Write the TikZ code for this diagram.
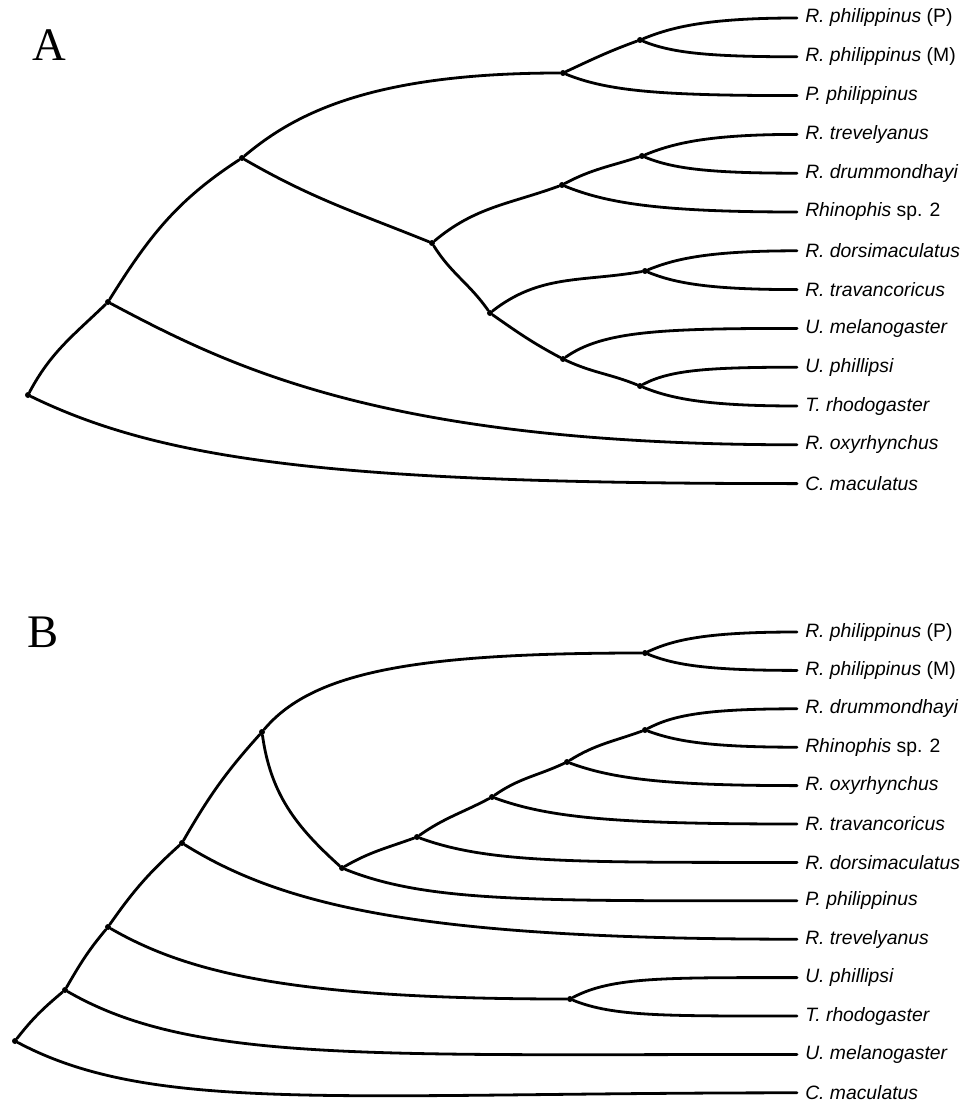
\documentclass[tikz,border=0pt]{standalone}
\usepackage{fontspec}
\setmainfont{Liberation Serif}
\newfontfamily\taxfont{Liberation Sans}
\tikzset{
  branch/.style={line width=2.1pt, line cap=round},
  leaf/.style={out looseness=0.5, in looseness=1.5},
  fork/.style={circle, fill=black, inner sep=0pt, minimum size=4.5pt},
  taxon/.style={anchor=west, inner xsep=6pt, inner ysep=0pt, font=\taxfont\fontsize{14.5}{17}\selectfont},
  panel/.style={font=\fontsize{35}{40}\selectfont},
}

\begin{document}
\begin{tikzpicture}[x=0.75pt, y=-0.75pt]
\useasboundingbox (0,0) rectangle (969,1109);
\node[panel] (labA) at (49,45) {A};
\node[panel] (labB) at (43,632) {B};
\foreach \n/\k/\t in {aPP/0/{\textit{R. philippinus} (P)}, aPM/1/{\textit{R. philippinus} (M)}, aPh/2/\textit{P. philippinus}, aTr/3/\textit{R. trevelyanus}, aDr/4/\textit{R. drummondhayi}, aRh/5/{\textit{Rhinophis} sp. 2}, aDo/6/\textit{R. dorsimaculatus}, aTv/7/\textit{R. travancoricus}, aUm/8/\textit{U. melanogaster}, aUp/9/\textit{U. phillipsi}, aTh/10/\textit{T. rhodogaster}, aRo/11/\textit{R. oxyrhynchus}, aCm/12/\textit{C. maculatus}}{
    \node[taxon] (\n) at (797,{18+38.8*\k}) {\t};
}
\foreach \n/\k/\t in {bPP/0/{\textit{R. philippinus} (P)}, bPM/1/{\textit{R. philippinus} (M)}, bDr/2/\textit{R. drummondhayi}, bRh/3/{\textit{Rhinophis} sp. 2}, bRo/4/\textit{R. oxyrhynchus}, bTv/5/\textit{R. travancoricus}, bDo/6/\textit{R. dorsimaculatus}, bPh/7/\textit{P. philippinus}, bTr/8/\textit{R. trevelyanus}, bUp/9/\textit{U. phillipsi}, bTh/10/\textit{T. rhodogaster}, bUm/11/\textit{U. melanogaster}, bCm/12/\textit{C. maculatus}}{
    \node[taxon] (\n) at (797,{632+38.4*\k}) {\t};
}
\node[fork] (a0) at (28,395) {};
\node[fork] (a1) at (108,302) {};
\node[fork] (a2) at (242,158) {};
\node[fork] (a3) at (563,73) {};
\node[fork] (a3b) at (640,40) {};
\node[fork] (a4) at (432,243) {};
\node[fork] (a5) at (562,185) {};
\node[fork] (a5b) at (642,156) {};
\node[fork] (a6) at (490,313) {};
\node[fork] (a7) at (645,271) {};
\node[fork] (a8) at (563,359) {};
\node[fork] (a9) at (640,386) {};
\draw[branch] (a0) to[out=62, in=224] (a1);
\draw[branch, leaf] (a0) to[out=-26, in=180] (aCm.west);
\draw[branch] (a1) to[out=58, in=213] (a2);
\draw[branch, leaf] (a1) to[out=-28, in=180] (aRo.west);
\draw[branch, leaf] (a2) to[out=40, in=180] (a3);
\draw[branch] (a2) to[out=-30, in=158] (a4);
\draw[branch] (a3) to[out=25, in=200] (a3b);
\draw[branch, leaf] (a3) to[out=-22, in=180] (aPh.west);
\draw[branch, leaf] (a3b) to[out=22, in=180] (aPP.west);
\draw[branch, leaf] (a3b) to[out=-22, in=180] (aPM.west);
\draw[branch] (a4) to[out=40, in=200] (a5);
\draw[branch] (a4) to[out=-58, in=125] (a6);
\draw[branch] (a5) to[out=28, in=198] (a5b);
\draw[branch, leaf] (a5) to[out=-22, in=180] (aRh.west);
\draw[branch, leaf] (a5b) to[out=22, in=180] (aTr.west);
\draw[branch, leaf] (a5b) to[out=-22, in=180] (aDr.west);
\draw[branch] (a6) to[out=38, in=190] (a7);
\draw[branch] (a6) to[out=-35, in=152] (a8);
\draw[branch, leaf] (a7) to[out=22, in=180] (aDo.west);
\draw[branch, leaf] (a7) to[out=-22, in=180] (aTv.west);
\draw[branch, leaf] (a8) to[out=35, in=180] (aUm.west);
\draw[branch] (a8) to[out=-25, in=158] (a9);
\draw[branch, leaf] (a9) to[out=28, in=180] (aUp.west);
\draw[branch, leaf] (a9) to[out=-22, in=180] (aTh.west);
\node[fork] (b0) at (15,1041) {};
\node[fork] (b1) at (65,990) {};
\node[fork] (b2) at (108,927) {};
\node[fork] (b3) at (182,843) {};
\node[fork] (b4) at (262,732) {};
\node[fork] (b5) at (645,653) {};
\node[fork] (b6) at (342,868) {};
\node[fork] (b7) at (417,837) {};
\node[fork] (b8) at (492,797) {};
\node[fork] (b9) at (567,762) {};
\node[fork] (b10) at (645,730) {};
\node[fork] (b11) at (570,999) {};
\draw[branch] (b0) to[out=52, in=220] (b1);
\draw[branch, leaf] (b0) to[out=-28, in=180] (bCm.west);
\draw[branch] (b1) to[out=60, in=230] (b2);
\draw[branch, leaf] (b1) to[out=-30, in=180] (bUm.west);
\draw[branch] (b2) to[out=55, in=222] (b3);
\draw[branch, leaf] (b2) to[out=-30, in=180] (b11);
\draw[branch] (b3) to[out=60, in=228] (b4);
\draw[branch, leaf] (b3) to[out=-32, in=180] (bTr.west);
\draw[branch, leaf] (b4) to[out=50, in=180] (b5);
\draw[branch] (b4) to[out=-82, in=138] (b6);
\draw[branch, leaf] (b5) to[out=25, in=180] (bPP.west);
\draw[branch, leaf] (b5) to[out=-22, in=180] (bPM.west);
\draw[branch] (b6) to[out=30, in=200] (b7);
\draw[branch, leaf] (b6) to[out=-22, in=180] (bPh.west);
\draw[branch] (b7) to[out=35, in=208] (b8);
\draw[branch, leaf] (b7) to[out=-20, in=180] (bDo.west);
\draw[branch] (b8) to[out=35, in=205] (b9);
\draw[branch, leaf] (b8) to[out=-20, in=180] (bTv.west);
\draw[branch] (b9) to[out=32, in=200] (b10);
\draw[branch, leaf] (b9) to[out=-20, in=180] (bRo.west);
\draw[branch, leaf] (b10) to[out=28, in=180] (bDr.west);
\draw[branch, leaf] (b10) to[out=-20, in=180] (bRh.west);
\draw[branch, leaf] (b11) to[out=28, in=180] (bUp.west);
\draw[branch, leaf] (b11) to[out=-22, in=180] (bTh.west);
\end{tikzpicture}
\end{document}
